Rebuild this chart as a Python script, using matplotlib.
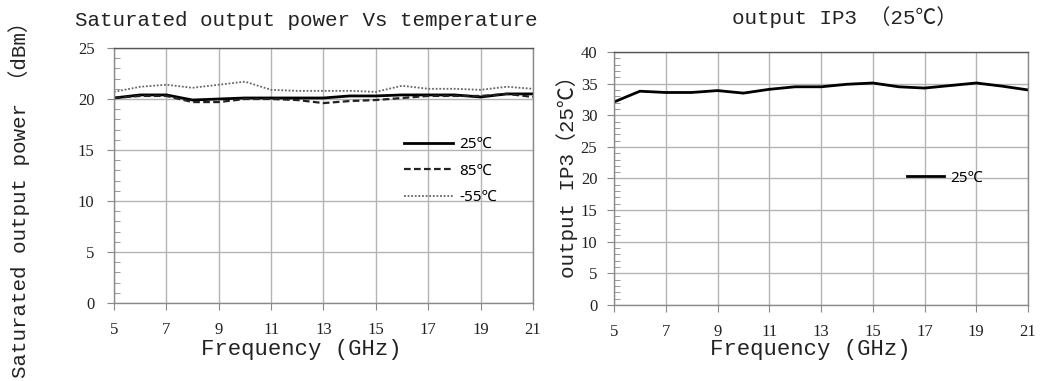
import numpy as np
import matplotlib
matplotlib.use('Agg')
import matplotlib.pyplot as plt
from matplotlib.ticker import MultipleLocator

# Frequency points (GHz)
freq = [5, 6, 7, 8, 9, 10, 11, 12, 13, 14, 15, 16, 17, 18, 19, 20, 21]

# Saturated output power (dBm) at three temperatures
psat_25 = [20.1, 20.4, 20.4, 19.9, 20.0, 20.1, 20.1, 20.1, 20.1, 20.3, 20.3, 20.4, 20.4, 20.4, 20.2, 20.5, 20.5]
psat_85 = [20.1, 20.3, 20.3, 19.7, 19.7, 20.0, 20.0, 19.9, 19.6, 19.8, 19.9, 20.1, 20.3, 20.3, 20.3, 20.5, 20.2]
psat_m55 = [20.7, 21.2, 21.4, 21.1, 21.4, 21.7, 20.9, 20.8, 20.8, 20.8, 20.7, 21.3, 21.0, 21.0, 20.9, 21.2, 21.0]

# Output IP3 (dBm) at 25C
oip3_25 = [32.1, 33.8, 33.6, 33.6, 33.9, 33.5, 34.1, 34.5, 34.5, 34.9, 35.1, 34.5, 34.3, 34.7, 35.1, 34.6, 34.0]

xticks = [5, 7, 9, 11, 13, 15, 17, 19, 21]

mono = ['Liberation Mono', 'Noto Sans CJK SC']
tickfont = 'Liberation Serif'
legfont = ['Noto Sans', 'Noto Sans CJK SC']


def style_axes(ax, ymax, ystep):
    ax.set_xlim(5, 21)
    ax.set_ylim(0, ymax)
    ax.set_xticks(xticks)
    ax.yaxis.set_major_locator(MultipleLocator(ystep))
    ax.yaxis.set_minor_locator(MultipleLocator(1))
    ax.grid(True, which='major', color='#b4b4b4', linewidth=1)
    ax.tick_params(axis='both', which='major', direction='out', length=5,
                   color='#888888', labelsize=12, pad=9)
    ax.tick_params(axis='y', which='minor', direction='in', length=4, color='#888888')
    for lab in ax.get_xticklabels() + ax.get_yticklabels():
        lab.set_fontfamily(tickfont)
        lab.set_color('#222222')
    for s in ax.spines.values():
        s.set_color('#8a8a8a')
        s.set_linewidth(1)
    ax.spines['top'].set_color('#555555')


fig = plt.figure(figsize=(10.4, 3.81), dpi=100)

# Left chart: saturated output power vs temperature
ax1 = fig.add_axes([0.1096, 0.2047, 0.4029, 0.6693])
ax1.plot(freq, psat_25, color='black', linewidth=2, label='25℃')
ax1.plot(freq, psat_85, color='#222222', linewidth=1.6, linestyle=(0, (3, 1.5)), label='85℃')
ax1.plot(freq, psat_m55, color='#666666', linewidth=1.3, linestyle=(0, (1, 1)), label='-55℃')
style_axes(ax1, 25, 5)
ax1.legend(loc='upper left', bbox_to_anchor=(0.66, 0.705), frameon=False,
           handlelength=3.2, handletextpad=0.4, labelspacing=0.75,
           prop={'family': legfont, 'size': 11})

# Right chart: output IP3
ax2 = fig.add_axes([0.5904, 0.1995, 0.3981, 0.664])
ax2.plot(freq, oip3_25, color='black', linewidth=2, label='25℃')
style_axes(ax2, 40, 5)
ax2.tick_params(axis='y', which='major', pad=7)
ax2.legend(loc='upper left', bbox_to_anchor=(0.675, 0.585), frameon=False,
           handlelength=2.4, handletextpad=0.4,
           prop={'family': legfont, 'size': 11})

# Titles and axis labels
fig.text(0.294, 0.945, 'Saturated output power Vs temperature', family=mono,
         fontsize=15, ha='center', va='center', color='#222222')
fig.text(0.812, 0.955, 'output IP3 （25℃）', family=mono,
         fontsize=15, ha='center', va='center', color='#222222')
fig.text(0.018, 0.49, 'Saturated output power （dBm）', family=mono, rotation=90,
         fontsize=15, ha='center', va='center', color='#222222')
fig.text(0.545, 0.55, 'output IP3（25℃）', family=mono, rotation=90,
         fontsize=15, ha='center', va='center', color='#222222')
fig.text(0.29, 0.082, 'Frequency (GHz)', family=mono,
         fontsize=16, ha='center', va='center', color='#222222')
fig.text(0.779, 0.082, 'Frequency (GHz)', family=mono,
         fontsize=16, ha='center', va='center', color='#222222')

fig.savefig('out.png', dpi=100, facecolor='white')
